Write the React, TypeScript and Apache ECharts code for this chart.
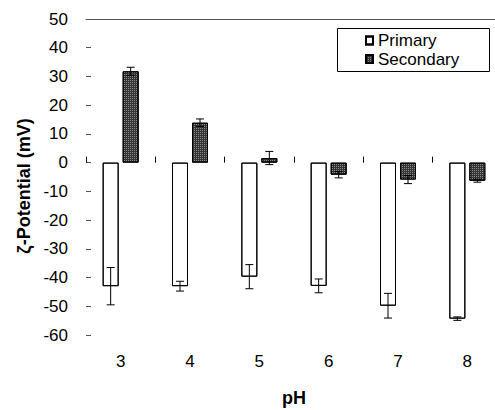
import React, { useEffect, useRef } from "react";
import * as echarts from "echarts";

const categories = ["3", "4", "5", "6", "7", "8"];
const primaryValues = [-43, -43, -39.7, -42.9, -49.8, -54.3];
const primaryErrors = [6.5, 1.7, 4.2, 2.4, 4.3, 0.6];
const secondaryValues = [31.8, 13.9, 1.6, -4.2, -5.9, -6.3];
const secondaryErrors = [1.4, 1.3, 2.3, 1.1, 1.4, 0.5];
const yTicks = { min: -60, max: 50, interval: 10 };

const FONT = "'Liberation Sans', Arial, sans-serif";
const BAR_W = 16;
const OFFSET = 10;

function errorSeries(values: number[], errors: number[], offset: number, name: string) {
  return {
    type: "custom",
    name,
    xAxisIndex: 0,
    yAxisIndex: 0,
    silent: true,
    z: 5,
    data: values.map((v, i) => [i, v - errors[i], v + errors[i]]),
    renderItem: (params: any, api: any) => {
      const lo = api.coord([api.value(0), api.value(1)]);
      const hi = api.coord([api.value(0), api.value(2)]);
      const cx = lo[0] + offset;
      const cap = 4;
      const style = { stroke: "#000", lineWidth: 1 };
      return {
        type: "group",
        children: [
          { type: "line", shape: { x1: cx, y1: lo[1], x2: cx, y2: hi[1] }, style },
          { type: "line", shape: { x1: cx - cap, y1: lo[1], x2: cx + cap, y2: lo[1] }, style },
          { type: "line", shape: { x1: cx - cap, y1: hi[1], x2: cx + cap, y2: hi[1] }, style },
        ],
      };
    },
  };
}

export default function App() {
  const ref = useRef<HTMLDivElement>(null);
  useEffect(() => {
    if (!ref.current) return;
    const chart = echarts.init(ref.current, undefined, { renderer: "svg" });
    chart.setOption({
      animation: false,
      backgroundColor: "#fff",
      textStyle: { fontFamily: FONT },
      aria: { enabled: true, decal: { show: true } },
      grid: { left: 86, right: -7, top: 19, bottom: 75, outerBoundsMode: "none", containLabel: false },
      graphic: [
        {
          type: "rect",
          shape: { x: 337.5, y: 28.5, width: 152, height: 43 },
          style: { fill: "none", stroke: "#000", lineWidth: 1 },
          silent: true,
          z: 10,
        },
      ],
      legend: {
        data: ["Primary", "Secondary"],
        orient: "vertical",
        left: 365,
        top: 32,
        icon: "rect",
        itemWidth: 7,
        itemHeight: 8,
        itemGap: 1.5,
        padding: 0,
        textStyle: { fontSize: 17, color: "#000", fontFamily: FONT },
      },
      xAxis: [
        {
          type: "category",
          data: categories,
          position: "bottom",
          axisLine: { show: false, onZero: false },
          axisTick: { show: false },
          axisLabel: { fontSize: 17, color: "#000", margin: 18, fontFamily: FONT },
          name: "pH",
          nameLocation: "middle",
          nameGap: 54,
          nameTextStyle: { fontSize: 18, fontWeight: "bold", color: "#000", fontFamily: FONT },
          splitLine: { show: false },
        },
        {
          type: "category",
          data: categories,
          position: "bottom",
          axisLine: { show: false, onZero: true },
          axisTick: { show: true, inside: true, length: 6, lineStyle: { color: "#000", width: 1 } },
          axisLabel: { show: false },
          splitLine: { show: false },
        },
        {
          type: "category",
          data: categories,
          position: "top",
          axisLine: { show: true, onZero: false, lineStyle: { color: "#555", width: 1 } },
          axisTick: { show: false },
          axisLabel: { show: false },
          splitLine: { show: false },
        },
      ],
      yAxis: {
        type: "value",
        min: yTicks.min,
        max: yTicks.max,
        interval: yTicks.interval,
        axisLine: { show: false },
        axisTick: { show: true, inside: true, length: 5, lineStyle: { color: "#555" } },
        splitLine: { show: false },
        axisLabel: { fontSize: 17, color: "#000", margin: 18, fontFamily: FONT },
        name: "ζ-Potential (mV)",
        nameLocation: "middle",
        nameGap: 53,
        nameRotate: 90,
        nameTextStyle: {
          fontSize: 18,
          fontWeight: "bold",
          color: "#000",
          fontFamily: FONT,
          padding: [0, 18, 0, 0],
        },
      },
      series: [
        {
          type: "bar",
          name: "Primary",
          xAxisIndex: 0,
          data: primaryValues,
          barWidth: BAR_W,
          barGap: "25%",
          itemStyle: { color: "#fff", borderColor: "#000", borderWidth: 1, decal: { symbol: "none" } },
        },
        {
          type: "bar",
          name: "Secondary",
          xAxisIndex: 0,
          data: secondaryValues,
          barWidth: BAR_W,
          barGap: "25%",
          itemStyle: {
            color: "#333",
            borderColor: "#000",
            borderWidth: 1,
            decal: {
              symbol: "rect",
              symbolSize: 1,
              color: "rgba(180,180,180,0.7)",
              dashArrayX: [1, 1],
              dashArrayY: [1, 1],
              rotation: 0,
            },
          },
        },
        errorSeries(primaryValues, primaryErrors, -OFFSET, "PrimaryErr"),
        errorSeries(secondaryValues, secondaryErrors, OFFSET, "SecondaryErr"),
      ],
    });
    return () => chart.dispose();
  }, []);
  return (
    <div
      ref={ref}
      style={{ position: "fixed", left: 0, top: 0, width: 495, height: 410 }}
    />
  );
}
